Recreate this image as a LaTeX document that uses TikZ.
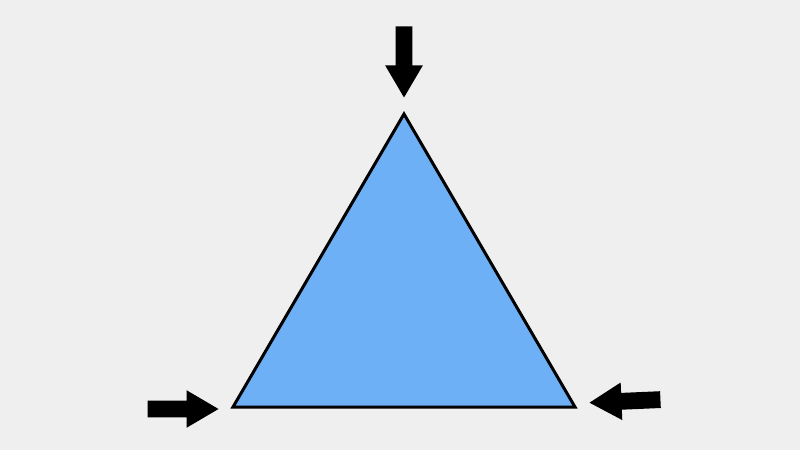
\documentclass[tikz,border=0pt]{standalone}
\definecolor{bg}{HTML}{EFEFEF}
\definecolor{tri}{HTML}{6DB0F5}
\tikzset{
  pics/bigarrow/.style={code={
    \fill[black] (0,0) -- (-32,18.8) -- (-32,8.4) -- (-71,8.4) -- (-71,-8.4) -- (-32,-8.4) -- (-32,-18.8) -- cycle;
  }},
  trishape/.style={fill=tri, draw=black, line width=3pt, line join=miter}
}
\begin{document}
\begin{tikzpicture}[x=1pt,y=1pt]
\fill[bg] (0,0) rectangle (800,450);
\useasboundingbox (0,0) rectangle (800,450);
\coordinate (apex) at (404,336);
\coordinate (bl) at (233,43);
\coordinate (br) at (575,43);
\draw[trishape] (apex) -- (bl) -- (br) -- cycle;
\pic[rotate=-90] at (404,352.5) {bigarrow};
\pic at (218.5,41) {bigarrow};
\pic[rotate=182.5] at (589.5,47.3) {bigarrow};
\end{tikzpicture}
\end{document}
